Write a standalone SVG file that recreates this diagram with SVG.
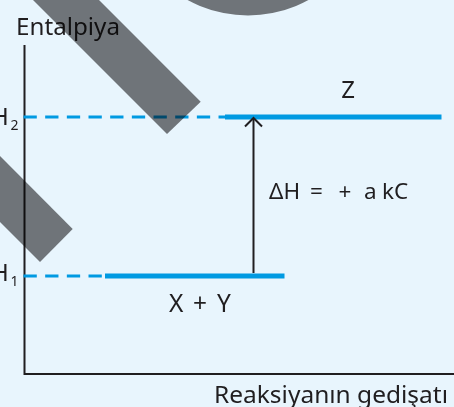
<svg xmlns="http://www.w3.org/2000/svg" width="454" height="407" viewBox="0 0 454 407">
  <style>
    .t { font-family: "Noto Sans", "Open Sans", "DejaVu Sans", sans-serif; fill: #231f20; }
    .ax { stroke: #231f20; stroke-width: 2; fill: none; }
    .dash { stroke: #00a0e4; stroke-width: 3; stroke-dasharray: 13.3 8.37; fill: none; }
    .lvl { stroke: #00a0e4; stroke-width: 5; fill: none; }
    .bar { fill: #6f7479; }
    .arr { stroke: #231f20; stroke-width: 2; fill: none; }
  </style>
  <defs>
    <marker id="head" markerWidth="20" markerHeight="20" refX="10" refY="10" orient="auto" markerUnits="userSpaceOnUse">
      <path d="M1.5,1.5 L10,10 L1.5,18.5" stroke="#231f20" stroke-width="2" fill="none"/>
    </marker>
  </defs>
  <rect width="454" height="407" fill="#e8f5fd"/>

  <g id="overlay">
    <circle cx="248" cy="-110" r="125.5" class="bar"/>
    <polygon class="bar" points="33,0 99,0 200.7,101.7 167,134 33,0"/>
    <polygon class="bar" points="-10,146 72.7,229 40,262 -10,212"/>
  </g>

  <g style="mix-blend-mode:multiply">
    <g id="axes">
      <path class="ax" d="M24.5,45 V374 H454"/>
      <text class="t" x="16" y="35" font-size="23.5" textLength="104" lengthAdjust="spacingAndGlyphs">Entalpiya</text>
      <text class="t" x="214" y="402.5" font-size="24" textLength="234" lengthAdjust="spacingAndGlyphs">Reaksiyanın gedişatı</text>
    </g>

    <g id="level-H2">
      <line class="dash" x1="23.5" y1="117" x2="225" y2="117"/>
      <text class="t" x="-9" y="125" font-size="24">H</text>
      <text class="t" x="10.5" y="130" font-size="14">2</text>
    </g>

    <g id="level-H1">
      <line class="dash" x1="23.5" y1="276" x2="105" y2="276"/>
      <text class="t" x="-9" y="281" font-size="24">H</text>
      <text class="t" x="10.5" y="286" font-size="14">1</text>
    </g>

    <g id="node-Z">
      <line class="lvl" x1="225" y1="117" x2="441.5" y2="117"/>
      <text class="t" x="348" y="98" font-size="24" text-anchor="middle">Z</text>
    </g>

    <g id="node-XY">
      <line class="lvl" x1="105" y1="276" x2="284.5" y2="276"/>
      <text class="t" y="311.5" font-size="24.5"><tspan x="169">X</tspan><tspan x="193">+</tspan><tspan x="217">Y</tspan></text>
    </g>

    <g id="connectors">
      <line class="arr" x1="253.5" y1="273" x2="253.5" y2="118" marker-end="url(#head)"/>
      <text class="t" y="199" font-size="22.5"><tspan x="269">ΔH</tspan><tspan x="310">=</tspan><tspan x="338.5">+</tspan><tspan x="364">a</tspan><tspan x="382">kC</tspan></text>
    </g>
  </g>
</svg>
